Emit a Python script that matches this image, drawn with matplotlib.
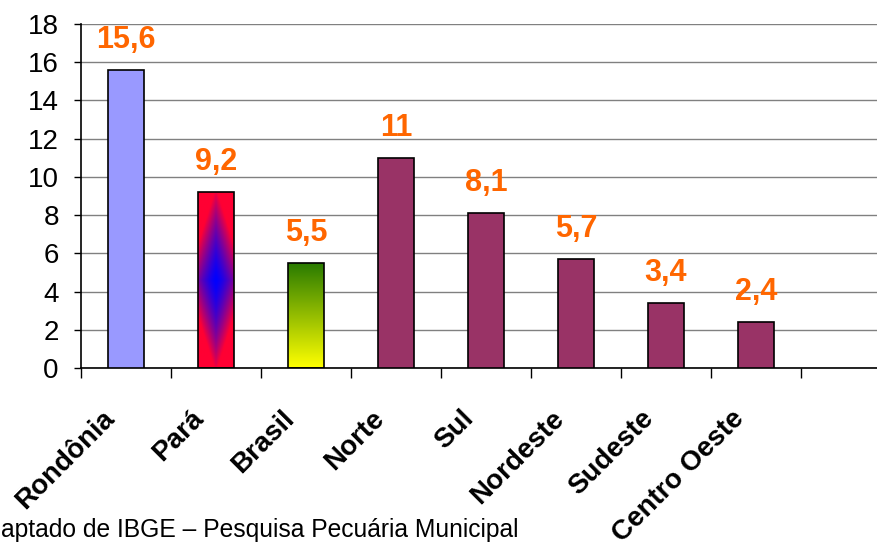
import matplotlib
matplotlib.use('Agg')
import matplotlib.pyplot as plt
import matplotlib.transforms as mtransforms
import numpy as np

# data
categorias = ['Rondônia', 'Pará', 'Brasil', 'Norte', 'Sul',
              'Nordeste', 'Sudeste', 'Centro Oeste']
valores = [15.6, 9.2, 5.5, 11, 8.1, 5.7, 3.4, 2.4]
rotulos = ['15,6', '9,2', '5,5', '11', '8,1', '5,7', '3,4', '2,4']
fonte = 'Adaptado de IBGE – Pesquisa Pecuária Municipal'
n_slots = 9  # one empty slot at the right end

cores = ['#9999FF', None, None, '#993366', '#993366',
         '#993366', '#993366', '#993366']

plt.rcParams['font.family'] = ['Liberation Sans', 'DejaVu Sans']

W, H = 878, 544
fig = plt.figure(figsize=(W / 100, H / 100), dpi=100)
ax = fig.add_axes([81 / W, 176 / H, 810 / W, 344 / H])


def _gradiente_para(nx=60, ny=300):
   '''diamond gradient: blue in the middle, red at the borders'''
   x = np.linspace(-1, 1, nx)
   y = np.linspace(-1, 1, ny)
   xx, yy = np.meshgrid(x, y)
   t = np.clip(np.abs(xx) * 0.6 + np.abs(yy) * 0.95, 0, 1) ** 1.4
   azul = np.array([0, 0, 255]) / 255
   vermelho = np.array([255, 0, 51]) / 255
   img = azul[None, None, :] * (1 - t[..., None]) + vermelho[None, None, :] * t[..., None]
   return img


def _gradiente_brasil(ny=200):
   '''vertical gradient: green on top, yellow at the bottom'''
   t = np.linspace(0, 1, ny)[:, None, None]  # 0 = bottom
   amarelo = np.array([255, 255, 0]) / 255
   verde = np.array([40, 122, 0]) / 255
   img = amarelo * (1 - t) + verde * t
   return np.repeat(img, 2, axis=1)


largura = 0.39
xs = np.arange(len(valores))
barras = ax.bar(xs, valores, width=largura, color=[c if c else 'none' for c in cores],
                edgecolor='black', linewidth=1.2, zorder=3)

# gradient fills
for i, img, orig in [(1, _gradiente_para(), 'upper'), (2, _gradiente_brasil(), 'lower')]:
   b = barras[i]
   x0 = b.get_x()
   im = ax.imshow(img, extent=[x0, x0 + largura, 0, valores[i]], origin=orig,
                  aspect='auto', zorder=2, interpolation='bilinear')
   im.set_clip_path(b)

# value labels
for x, v, r in zip(xs, valores, rotulos):
   ax.annotate(r, (x, v), xytext=(0, 16), textcoords='offset points',
               ha='center', va='baseline', color='#FF6600',
               fontsize=22, fontweight='bold', zorder=4)

ax.set_xlim(-0.5, n_slots - 0.5)
ax.set_ylim(0, 18)
ax.set_yticks(np.arange(0, 19, 2))
ax.tick_params(axis='y', labelsize=20, length=5, width=1, pad=11, direction='out')

# category boundaries as ticks, labels at the centres
ax.set_xticks(np.arange(n_slots + 1) - 0.5, minor=True)
ax.set_xticks(xs)
ax.set_xticklabels(categorias, rotation=45, ha='right', va='top',
                   rotation_mode='anchor', fontsize=20, fontweight='bold')
ax.tick_params(axis='x', which='major', length=0, pad=27)
ax.tick_params(axis='x', which='minor', length=7, width=1, direction='out')
desloc = mtransforms.ScaledTranslation(-25 / 100, 0, fig.dpi_scale_trans)
for lab in ax.get_xticklabels():
   lab.set_transform(lab.get_transform() + desloc)

ax.yaxis.grid(True, color='#808080', linewidth=1)
ax.set_axisbelow(True)
for s in ['top', 'right']:
   ax.spines[s].set_visible(False)
for s in ['left', 'bottom']:
   ax.spines[s].set_color('black')
   ax.spines[s].set_linewidth(1.2)

fig.text(-29 / W, 7 / H, fonte, fontsize=17.7, ha='left', va='baseline')

fig.savefig('out.png', dpi=100)
